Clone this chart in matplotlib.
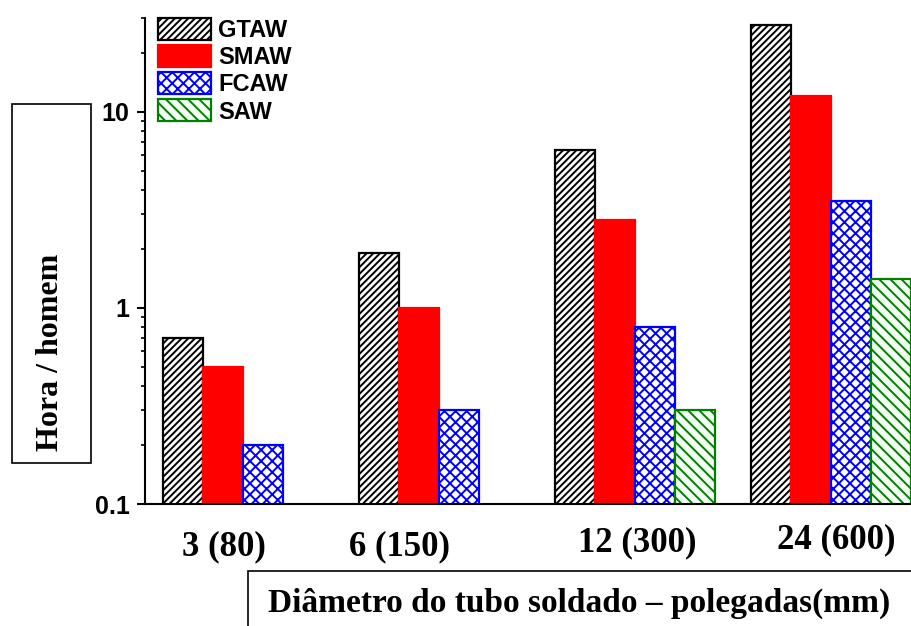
import numpy as np
import matplotlib
matplotlib.use('Agg')
import matplotlib.pyplot as plt

# Horas-homem por processo de soldagem e diametro do tubo
diametros = ['3 (80)', '6 (150)', '12 (300)', '24 (600)']
processos = ['GTAW', 'SMAW', 'FCAW', 'SAW']
gtaw = [0.7, 1.9, 6.4, 27.5]
smaw = [0.5, 1.0, 2.8, 12.0]
fcaw = [0.2, 0.3, 0.8, 3.5]
saw = [np.nan, np.nan, 0.3, 1.4]
valores = [gtaw, smaw, fcaw, saw]

estilos = [
    dict(facecolor='white', edgecolor='black', hatch='/////'),
    dict(facecolor='red', edgecolor='red', hatch=None),
    dict(facecolor='white', edgecolor='blue', hatch='xxx'),
    dict(facecolor='#f2fff2', edgecolor='green', hatch='\\\\\\'),
]

plt.rcParams['hatch.linewidth'] = 1.4

fig = plt.figure(figsize=(9.11, 6.26), dpi=100)
ax = fig.add_axes([145 / 911, 1 - 504 / 626, (911 - 145) / 911, (504 - 18) / 626])

x = np.arange(len(diametros))
largura = 0.204
for i, (nome, vals, est) in enumerate(zip(processos, valores, estilos)):
    ax.bar(x + (i - 1.5) * largura, vals, largura, bottom=0, label=nome,
           linewidth=1.6, **est)

ax.set_yscale('log')
ax.set_ylim(0.1, 30)
ax.set_xlim(-0.5, 3.41)
ax.set_yticks([0.1, 1, 10])
ax.set_yticklabels(['0.1', '1', '10'], fontsize=18, fontweight='bold', family='Liberation Sans')
ax.tick_params(axis='y', which='major', length=6, width=1.5, direction='out', pad=5)
ax.tick_params(axis='y', which='minor', length=3, width=1.2, direction='out')

ax.set_xticks([])
# deslocamento de cada rotulo de diametro (x em grupos, y em pontos)
desloc_x = [-0.097, -0.199, 0.015, 0.026]
desloc_y = [-31, -31, -28, -26]
for xi, rot, dx, dy in zip(x, diametros, desloc_x, desloc_y):
    ax.annotate(rot, (xi + dx, 0), xycoords=('data', 'axes fraction'),
                xytext=(0, dy), textcoords='offset points', ha='center', va='center',
                fontsize=25, fontweight='bold', family='Liberation Serif')

for s in ['top', 'right']:
    ax.spines[s].set_visible(False)
ax.spines['left'].set_linewidth(1.5)
ax.spines['bottom'].set_linewidth(1.5)

leg = ax.legend(loc='upper left', bbox_to_anchor=(0.017, 1.0), frameon=False,
                prop=dict(family='Liberation Sans', weight='bold', size=17),
                handlelength=2.25, handleheight=1.06, labelspacing=0.13,
                handletextpad=0.3, borderaxespad=0.0, borderpad=0.0)

# caixas dos rotulos dos eixos
fig.text(51 / 911, 1 - 352 / 626, 'Hora / homem', rotation=90, ha='center', va='center',
         fontsize=23, fontweight='bold', family='Liberation Serif')
fig.patches.append(plt.Rectangle((12 / 911, 1 - 463 / 626), 79 / 911, 359 / 626,
                                 transform=fig.transFigure, fill=False, lw=1.2, ec='black'))
fig.text(268 / 911, 1 - 603 / 626, 'Diâmetro do tubo soldado – polegadas(mm)',
         ha='left', va='center', fontsize=24, fontweight='bold', family='Liberation Serif')
fig.patches.append(plt.Rectangle((248 / 911, -0.05), 680 / 911, 1 - 571 / 626 + 0.05,
                                 transform=fig.transFigure, fill=False, lw=1.2, ec='black'))

fig.savefig('out.png', dpi=100)
